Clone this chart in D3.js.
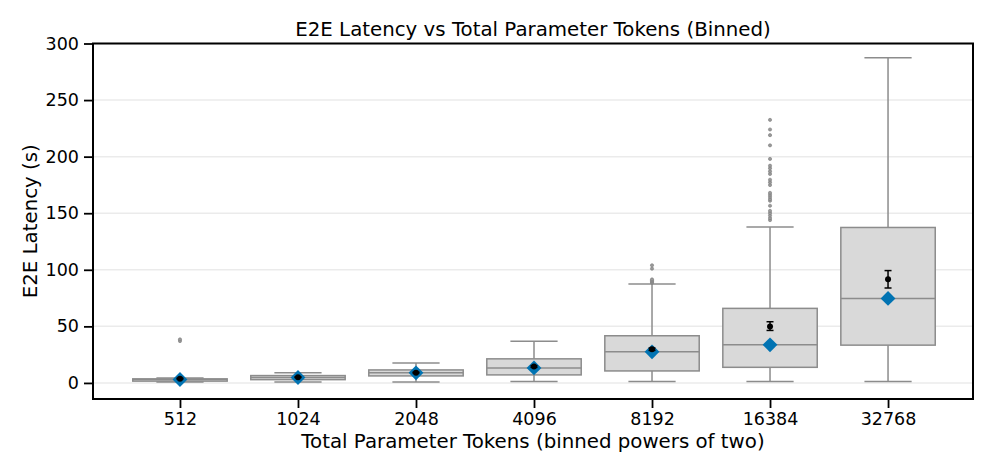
<!DOCTYPE html>
<html>
<head>
<meta charset="utf-8">
<script src="https://cdn.jsdelivr.net/npm/d3@7"></script>
<style>
  body { margin: 0; background: #fff; }
  text { font-family: "DejaVu Sans", sans-serif; fill: #000; }
</style>
</head>
<body>
<svg id="chart" width="996" height="476"></svg>
<script>
// bins (powers of two)
const categories = ["512", "1024", "2048", "4096", "8192", "16384", "32768"];
// box stats (seconds)
const whiskerLow = [0.9, 0.9, 0.9, 1.2, 1.2, 1.2, 1.2];
const q1 = [1.6, 2.9, 6.2, 7.1, 10.6, 13.8, 33.4];
const medians = [3.0, 4.8, 8.9, 13.3, 27.5, 33.7, 74.7];
const q3 = [3.6, 6.5, 11.5, 21.3, 41.7, 65.9, 137.4];
const whiskerHigh = [4.4, 8.9, 17.7, 36.9, 87.4, 137.9, 287.5];
// mean with confidence interval
const means = [3.8, 5.1, 9.1, 14.5, 29.8, 49.9, 91.6];
const ciLow = [3.4, 4.8, 8.7, 13.8, 28.8, 46.4, 83.9];
const ciHigh = [4.2, 5.4, 9.5, 15.2, 30.8, 54.1, 99.3];
// fliers
const outliers = [
  [37.0, 38.5],
  [],
  [],
  [],
  [88.5, 89.5, 90.5, 91.5, 101, 104],
  [143.9, 145.7, 148, 150.1, 152.1, 156.6, 161, 162.5, 164.5, 166.3, 168,
   174.9, 177.3, 179.6, 184.7, 187, 189.7, 192, 198, 210, 219, 224, 232.5],
  []
];
const yTicks = [0, 50, 100, 150, 200, 250, 300];

const svg = d3.select("#chart");
const mLeft = 93, mRight = 973, mTop = 43.5, mBottom = 399;

let x = d3.scaleLinear().domain([-0.737, 6.72]).range([mLeft, mRight]);
let y = d3.scaleLinear().domain([-14.2, 300]).range([mBottom, mTop]);
const step = x(1) - x(0);
const boxW = step * 0.8;

// grid
svg.append("g")
  .selectAll("line")
  .data(yTicks)
  .enter()
  .append("line")
  .attr("x1", mLeft).attr("x2", mRight)
  .attr("y1", d => y(d)).attr("y2", d => y(d))
  .attr("stroke", "#ebebeb")
  .attr("stroke-width", 1.5);

const boxColor = "#8c8c8c";
let groups = svg.append("g")
  .selectAll(".box")
  .data(categories)
  .enter()
  .append("g")
  .attr("transform", (d, i) => `translate(${x(i)},0)`);

// whiskers
groups.append("line")
  .attr("x1", 0).attr("x2", 0)
  .attr("y1", (d, i) => y(whiskerLow[i])).attr("y2", (d, i) => y(q1[i]))
  .attr("stroke", boxColor).attr("stroke-width", 1.5);
groups.append("line")
  .attr("x1", 0).attr("x2", 0)
  .attr("y1", (d, i) => y(q3[i])).attr("y2", (d, i) => y(whiskerHigh[i]))
  .attr("stroke", boxColor).attr("stroke-width", 1.5);
// caps
[whiskerLow, whiskerHigh].forEach(arr => {
  groups.append("line")
    .attr("x1", -boxW / 4).attr("x2", boxW / 4)
    .attr("y1", (d, i) => y(arr[i])).attr("y2", (d, i) => y(arr[i]))
    .attr("stroke", boxColor).attr("stroke-width", 1.5);
});
// box
groups.append("rect")
  .attr("x", -boxW / 2)
  .attr("width", boxW)
  .attr("y", (d, i) => y(q3[i]))
  .attr("height", (d, i) => y(q1[i]) - y(q3[i]))
  .attr("fill", "#d9d9d9")
  .attr("stroke", boxColor)
  .attr("stroke-width", 1.5);
// median
groups.append("line")
  .attr("x1", -boxW / 2).attr("x2", boxW / 2)
  .attr("y1", (d, i) => y(medians[i])).attr("y2", (d, i) => y(medians[i]))
  .attr("stroke", boxColor).attr("stroke-width", 1.5);
// fliers
groups.each(function (d, i) {
  d3.select(this).selectAll(".flier")
    .data(outliers[i])
    .enter()
    .append("circle")
    .attr("cx", 0)
    .attr("cy", v => y(v))
    .attr("r", 1.6)
    .attr("fill", "#9a9a9a")
    .attr("stroke", "#7a7a7a")
    .attr("stroke-width", 0.6);
});
// median diamond
groups.append("path")
  .attr("d", d3.symbol().type(d3.symbolSquare).size(110))
  .attr("transform", (d, i) => `translate(0,${y(medians[i])}) rotate(45)`)
  .attr("fill", "#0173b2");
// mean + ci
groups.append("line")
  .attr("x1", 0).attr("x2", 0)
  .attr("y1", (d, i) => y(ciLow[i])).attr("y2", (d, i) => y(ciHigh[i]))
  .attr("stroke", "#000").attr("stroke-width", 1.5);
[ciLow, ciHigh].forEach(arr => {
  groups.append("line")
    .attr("x1", -3.5).attr("x2", 3.5)
    .attr("y1", (d, i) => y(arr[i])).attr("y2", (d, i) => y(arr[i]))
    .attr("stroke", "#000").attr("stroke-width", 1.5);
});
groups.append("circle")
  .attr("cy", (d, i) => y(means[i]))
  .attr("r", 3)
  .attr("fill", "#000");

// axes
let x_axis = d3.axisBottom(x)
  .tickValues(d3.range(categories.length))
  .tickFormat(i => categories[i])
  .tickSize(9).tickPadding(5);
let y_axis = d3.axisLeft(y).tickValues(yTicks).tickSize(9).tickPadding(5);

let gx = svg.append("g").attr("transform", `translate(0,${mBottom})`).call(x_axis);
let gy = svg.append("g").attr("transform", `translate(${mLeft},0)`).call(y_axis);
[gx, gy].forEach(g => {
  g.select(".domain").remove();
  g.selectAll("line").attr("stroke", "#000").attr("stroke-width", 1.8);
  g.selectAll("text").attr("font-size", 17.5).attr("font-family", "DejaVu Sans").attr("fill", "#000");
});

// frame
svg.append("rect")
  .attr("x", mLeft).attr("y", mTop)
  .attr("width", mRight - mLeft).attr("height", mBottom - mTop)
  .attr("fill", "none")
  .attr("stroke", "#000")
  .attr("stroke-width", 2);

// Labels
svg.append("text")
  .attr("x", (mLeft + mRight) / 2).attr("y", 36)
  .attr("text-anchor", "middle")
  .attr("font-size", 19.8)
  .text("E2E Latency vs Total Parameter Tokens (Binned)");
svg.append("text")
  .attr("x", (mLeft + mRight) / 2).attr("y", 448)
  .attr("text-anchor", "middle")
  .attr("font-size", 19.8)
  .text("Total Parameter Tokens (binned powers of two)");
svg.append("text")
  .attr("transform", `translate(37,${(mTop + mBottom) / 2}) rotate(-90)`)
  .attr("text-anchor", "middle")
  .attr("font-size", 19.8)
  .text("E2E Latency (s)");
</script>
</body>
</html>
